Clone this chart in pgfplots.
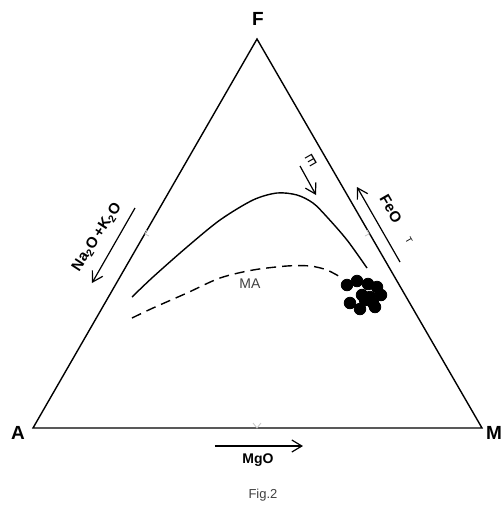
\documentclass[border=0pt]{standalone}
\usepackage{pgfplots}
\pgfplotsset{compat=1.18}
\usepackage{fontspec}
\setmainfont{Liberation Sans}
\usetikzlibrary{arrows.meta}

\begin{document}
\begin{tikzpicture}
  \begin{axis}[scale only axis, width=250.5pt, height=252.5pt,
      xmin=0, xmax=501, ymin=0, ymax=505, y dir=reverse,
      axis lines=none, clip=false]
    \coordinate (bl) at (axis cs:0,505);
    \coordinate (tr) at (axis cs:501,0);
    % triangle A-F-M
    \addplot[black, line width=0.7pt] coordinates {(33,428)(257,39)(482,428)} -- cycle;
    % faint mid-side ticks
    \addplot[gray!45, line width=0.4pt] coordinates {(253,423)(257,428)(261,423)};
    \addplot[gray!45, line width=0.4pt] coordinates {(147,230)(145,234)(149,236)};
    \addplot[gray!45, line width=0.4pt] coordinates {(367,230)(369,234)(365,236)};
    % solid trend line
    \addplot[black, line width=0.7pt, smooth] coordinates {
      (132,297)(153,277)(187,247)(220,220)(253,200)(277,193)(297,195)
      (313,203)(327,217)(347,240)(367,268)};
    % dashed MA line
    \addplot[black, line width=0.7pt, dash pattern=on 5pt off 3pt, smooth] coordinates {
      (132,318)(153,308)(187,293)(220,278)(253,270)(287,266)(310,266)
      (327,270)(342,278)};
    % samples
    \addplot[only marks, mark=*, mark size=2.9pt, black] coordinates {
      (347,285)(357,281)(368,284)(377,287)(381,295)(362,295)(370,297)
      (373,303)(350,303)(360,309)(375,307)(365,300)};
    % arrows
    \addplot[black, line width=0.6pt, -{Straight Barb[length=5pt,width=6pt]}] coordinates {(300,166)(316,195)};
    \addplot[black, line width=0.6pt, -{Straight Barb[length=5pt,width=6pt]}] coordinates {(400,262)(357,187)};
    \addplot[black, line width=0.6pt, -{Straight Barb[length=5pt,width=6pt]}] coordinates {(135,208)(92,283)};
    \addplot[black, line width=0.6pt, -{Straight Barb[length=5pt,width=6pt]}] coordinates {(215,446)(303,446)};
    % labels
    \node[font=\bfseries\fontsize{9.5}{11}\selectfont] at (axis cs:258,19) {F};
    \node[font=\bfseries\fontsize{9.5}{11}\selectfont] at (axis cs:18,433) {A};
    \node[font=\bfseries\fontsize{9.5}{11}\selectfont] at (axis cs:494,433) {M};
    \node[font=\bfseries\fontsize{7}{8}\selectfont] at (axis cs:258,460) {MgO};
    \node[font=\fontsize{6.5}{8}\selectfont, text=black!75] at (axis cs:263,495) {Fig.2};
    \node[font=\fontsize{7}{8}\selectfont, text=black!75] at (axis cs:250,284) {MA};
    \node[font=\fontsize{7.5}{9}\selectfont, rotate=-150] at (axis cs:311,160) {E};
    \node[font=\bfseries\fontsize{7.5}{9}\selectfont, rotate=-60] at (axis cs:391,209) {FeO};
    \node[font=\fontsize{4.5}{5}\selectfont, rotate=-60, inner sep=0pt] at (axis cs:409,240) {T};
    \node[font=\bfseries\fontsize{7.5}{9}\selectfont, rotate=57, inner sep=0pt] at (axis cs:97,237)
      {Na\textsubscript{2}O\,+K\textsubscript{2}O};
  \end{axis}
  \pgfresetboundingbox
  \path[use as bounding box] (bl) rectangle (tr);
\end{tikzpicture}
\end{document}
